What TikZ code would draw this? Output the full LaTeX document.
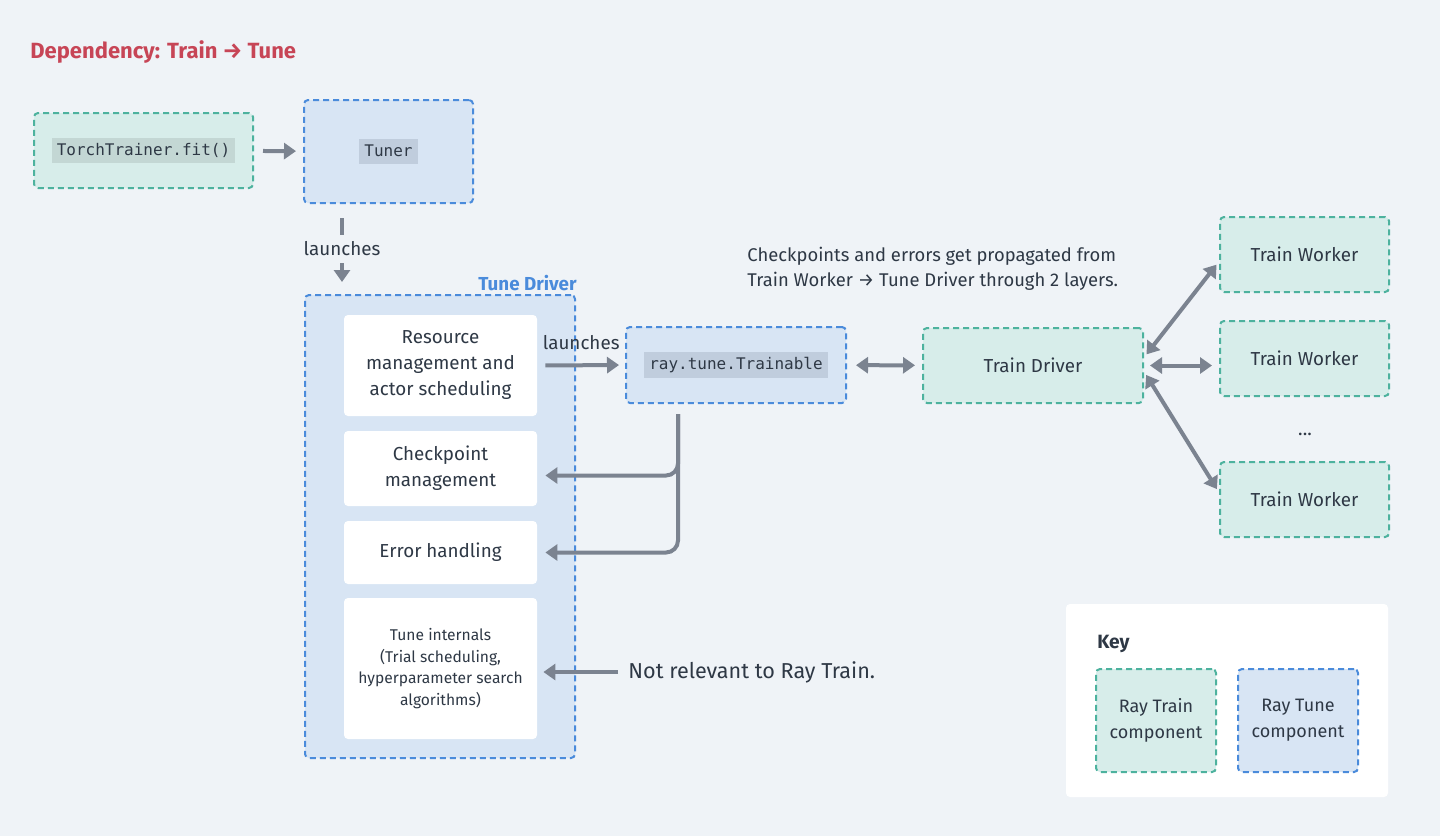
\documentclass[tikz,border=0pt]{standalone}
\usepackage{fontspec}
\setmainfont{Fira Sans}
\setmonofont{DejaVu Sans Mono}
\usetikzlibrary{arrows.meta}

\definecolor{bgcol}{HTML}{EFF3F7}
\definecolor{ink}{HTML}{2E3845}
\definecolor{trainfill}{HTML}{D7EDEA}
\definecolor{traindraw}{HTML}{4DB29E}
\definecolor{tunefill}{HTML}{D8E5F4}
\definecolor{tunedraw}{HTML}{4A8BDB}
\definecolor{traincode}{HTML}{C3D7D4}
\definecolor{tunecode}{HTML}{C0CDDD}
\definecolor{arrowcol}{HTML}{7B8390}
\definecolor{titlered}{HTML}{C74556}

\newcommand{\codetag}[2]{{\setlength{\fboxsep}{2.5pt}\colorbox{#1}{\ttfamily\fontsize{8}{10}\selectfont\vphantom{(}#2}}}

\begin{document}
\begin{tikzpicture}[x=0.5pt, y=-0.5pt,
  every node/.style={text=ink, font=\fontsize{9.4}{13}\selectfont},
  trainbox/.style={draw=traindraw, fill=trainfill, dash pattern=on 3pt off 2pt, line width=1pt, rounded corners=2pt, align=center, inner sep=0pt},
  tunebox/.style={draw=tunedraw, fill=tunefill, dash pattern=on 3pt off 2pt, line width=1pt, rounded corners=2pt, align=center, inner sep=0pt},
  innerbox/.style={fill=white, rounded corners=2pt, align=center, inner sep=0pt, minimum width=96.5pt},
  conn/.style={draw=arrowcol, line width=2pt, -{Triangle[length=6pt,width=8pt]}},
  biconn/.style={conn, {Triangle[length=6pt,width=8pt]}-{Triangle[length=6pt,width=8pt]}}]

\useasboundingbox (0,0) rectangle (1440,836);
\fill[bgcol] (0,0) rectangle (1440,836);

% title
\node[anchor=west, inner sep=0pt, text=titlered, font=\fontsize{11}{14}\selectfont\bfseries] (title) at (30,52) {Dependency: Train → Tune};

% top row
\node[trainbox, minimum width=109.5pt, minimum height=37.5pt] (trainer) at (143.5,150.5) {\codetag{traincode}{TorchTrainer.fit()}};
\node[tunebox, minimum width=84.5pt, minimum height=51.5pt] (tuner) at (388.5,151.5) {\codetag{tunecode}{Tuner}};

% tune driver
\node[tunebox, minimum width=135pt, minimum height=231.5pt] (tdriver) at (440,526.5) {};
\node[anchor=east, inner sep=0pt, text=tunedraw, font=\fontsize{9.4}{12}\selectfont\bfseries] (tdlabel) at (577,283) {Tune Driver};
\node[innerbox, minimum height=50.5pt] (resmgmt) at (440.5,365.5) {Resource\\management and\\actor scheduling};
\node[innerbox, minimum height=37.5pt] (ckpt) at (440.5,468.5) {Checkpoint\\management};
\node[innerbox, minimum height=31.5pt] (errh) at (440.5,552.5) {Error handling};
\node[innerbox, minimum height=70.5pt, font=\fontsize{7.8}{10.8}\selectfont] (internals) at (440.5,668.5) {Tune internals\\(Trial scheduling,\\hyperparameter search\\algorithms)};

% trainable and train side
\node[tunebox, minimum width=110pt, minimum height=38pt] (trainable) at (736,365) {\codetag{tunecode}{ray.tune.Trainable}};
\node[trainbox, minimum width=110pt, minimum height=37.5pt] (traindrv) at (1033,365.5) {Train Driver};
\node[trainbox, minimum width=84.5pt, minimum height=37.5pt] (worker1) at (1304.5,254.5) {Train Worker};
\node[trainbox, minimum width=84.5pt, minimum height=37.5pt] (worker2) at (1304.5,358.5) {Train Worker};
\node[trainbox, minimum width=84.5pt, minimum height=37.5pt] (worker3) at (1304.5,499.5) {Train Worker};
\node[inner sep=0pt] (dots) at (1305,434) {...};

\node[anchor=west, inner sep=0pt, align=left, font=\fontsize{9.2}{12.5}\selectfont] (note) at (747,269) {Checkpoints and errors get propagated from\\Train Worker → Tune Driver through 2 layers.};
\node[anchor=west, inner sep=0pt, font=\fontsize{10.8}{13}\selectfont] (notrel) at (628,672) {Not relevant to Ray Train.};

% key
\node[fill=white, rounded corners=2pt, minimum width=161pt, minimum height=96.5pt] (keypanel) at (1227,700.5) {};
\node[anchor=west, inner sep=0pt, font=\fontsize{9.6}{12}\selectfont\bfseries] (keylabel) at (1097,644) {Key};
\node[trainbox, minimum width=60pt, minimum height=51.5pt, font=\fontsize{9}{13}\selectfont] (keytrain) at (1156,720.5) {Ray Train\\component};
\node[tunebox, minimum width=60pt, minimum height=51.5pt, font=\fontsize{9}{13}\selectfont] (keytune) at (1298,720.5) {Ray Tune\\component};

% connectors
\draw[conn] (trainer) -- (tuner) [shorten <=4.5pt, shorten >=3.5pt];
\draw[conn, shorten <=7pt, shorten >=6pt] ([xshift=19.5pt]tuner.south west) -- node[fill=bgcol, inner sep=3.5pt] (launch1) {launches} ([xshift=19pt]tdriver.north west);
\draw[conn, shorten <=4pt, shorten >=3pt] (resmgmt.east) -- node[above=7pt, inner sep=0pt] (launch2) {launches} (trainable.west);
\draw[biconn, shorten <=4.5pt, shorten >=3.5pt] (trainable) -- (traindrv);
\draw[conn, rounded corners=6pt, shorten >=4pt] ([xshift=26.5pt,yshift=-5pt]trainable.south west) |- ([yshift=-3.5pt]ckpt.east);
\draw[conn, rounded corners=6pt, shorten >=4pt] ([xshift=26.5pt,yshift=-5pt]trainable.south west) |- (errh.east);
\draw[biconn, shorten <=2pt, shorten >=2pt] ([yshift=4pt]traindrv.east) -- ([yshift=-3.5pt]worker1.west);
\draw[biconn, shorten <=3pt, shorten >=3.5pt] (traindrv.east) -- (worker2.west |- traindrv.east);
\draw[biconn, shorten <=2pt, shorten >=2pt] ([yshift=-3pt]traindrv.east) -- ([yshift=3.5pt]worker3.west);
\draw[conn, shorten <=5pt, shorten >=3pt] (notrel.west) -- (internals.east |- notrel.west);

\end{tikzpicture}
\end{document}
